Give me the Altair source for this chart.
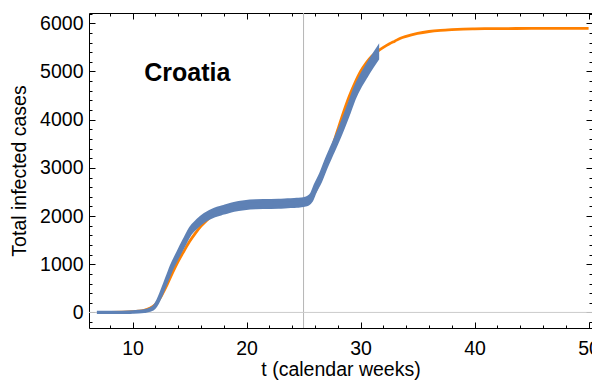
import altair as alt
import pandas as pd

FONT = "Liberation Sans"
BLUE = "#5E81B5"
ORANGE = "#FF8000"

# observed data (calendar weeks, total infected cases, error half-width)
weeks = [7.0, 8.0, 9.0, 9.5, 10.0, 10.5, 11.0, 11.5, 11.9, 12.2, 12.5, 12.8, 13.1, 13.4,
         14.0, 14.5, 15.1, 15.7, 16.3, 17.2, 18.0, 18.9, 19.8, 20.8, 21.8, 22.8, 23.6,
         24.4, 25.0, 25.4, 25.7, 26.0, 26.5, 27.0, 27.5, 28.0, 28.5, 29.0, 29.5, 30.0,
         30.5, 31.0, 31.5]
cases = [0, 0, 2, 4, 8, 15, 28, 55, 110, 220, 380, 560, 740, 920,
         1210, 1440, 1700, 1850, 1965, 2075, 2130, 2190, 2225, 2245, 2250, 2255, 2265,
         2275, 2290, 2320, 2390, 2560, 2800, 3100, 3370, 3640, 3930, 4240, 4560, 4800,
         5000, 5190, 5370]
errs = [3, 3, 4, 5, 6, 8, 10, 14, 18, 24, 30, 36, 41, 46,
        53, 57, 62, 65, 67, 69, 70, 71, 72, 72, 72, 72, 72,
        72, 72, 73, 74, 76, 80, 84, 87, 91, 94, 98, 101, 104,
        106, 108, 110]

# fitted curve
fit_weeks = [7, 8, 9, 10, 10.5, 11, 11.5, 12, 12.5, 13, 13.5, 14, 14.5, 15, 15.5, 16,
             16.5, 17, 17.5, 18, 19, 20, 21, 22, 23, 24, 24.5, 25, 25.5, 26, 26.5, 27,
             27.5, 28, 28.5, 29, 29.5, 30, 30.5, 31, 31.5, 32, 32.5, 33, 33.5, 34, 35,
             36, 37, 38, 39, 40, 42, 45, 50]
fit_cases = [1, 3, 7, 16, 26, 45, 85, 165, 330, 560, 820, 1060, 1270, 1470, 1640, 1790,
             1910, 2010, 2080, 2130, 2190, 2220, 2240, 2250, 2258, 2265, 2275, 2290, 2340,
             2500, 2770, 3080, 3420, 3790, 4150, 4480, 4760, 5000, 5180, 5320, 5420, 5500,
             5570, 5630, 5690, 5730, 5790, 5830, 5855, 5870, 5880, 5885, 5890, 5893, 5895]

x_ticks = list(range(8, 51, 2))
y_ticks = list(range(-200, 6201, 200))
marker_week = [25]
zero_line = [0]
label_text = ["Croatia"]
label_x = [14.8]
label_y = [4960]

obs = pd.DataFrame({"week": weeks, "cases": cases, "err": errs})
obs["lo"] = obs["cases"] - obs["err"]
obs["hi"] = obs["cases"] + obs["err"]
fit = pd.DataFrame({"week": fit_weeks, "cases": fit_cases})

xscale = alt.Scale(domain=[6.18, 50.3], nice=False, zero=False)
yscale = alt.Scale(domain=[-323, 6214], nice=False, zero=False)

x_tick_size = alt.ExprRef(expr="datum.value % 10 === 0 ? -6 : -3")
y_tick_size = alt.ExprRef(expr="datum.value % 1000 === 0 ? -6 : -3")

common = dict(grid=False, domain=False, tickColor="black", tickWidth=1,
              labelFont=FONT, labelFontSize=19.5, labelColor="black",
              titleFont=FONT, titleFontSize=19.5, titleFontWeight="normal",
              titleColor="black")

bottom_axis = alt.Axis(orient="bottom", values=x_ticks, tickSize=x_tick_size,
                       labelExpr="datum.value % 10 === 0 ? datum.label : ''",
                       labelPadding=17, titlePadding=3, **common)
left_axis = alt.Axis(orient="left", values=y_ticks, tickSize=y_tick_size,
                     labelExpr="datum.value % 1000 === 0 ? datum.label : ''",
                     format="d", labelPadding=12, titlePadding=10, **common)
top_axis = alt.Axis(orient="top", values=x_ticks, tickSize=x_tick_size,
                    labels=False, grid=False, domain=False, tickColor="black", tickWidth=1)
right_axis = alt.Axis(orient="right", values=y_ticks, tickSize=y_tick_size,
                      labels=False, grid=False, domain=False, tickColor="black", tickWidth=1)

vline = alt.Chart(pd.DataFrame({"week": marker_week})).mark_rule(
    color="#b5b5b5", strokeWidth=1).encode(
    x=alt.X("week:Q", scale=xscale, axis=None))

hline = alt.Chart(pd.DataFrame({"cases": zero_line})).mark_rule(
    color="#cccccc", strokeWidth=1).encode(
    y=alt.Y("cases:Q", scale=yscale, axis=None))

curve = alt.Chart(fit).mark_line(color=ORANGE, strokeWidth=2.8, interpolate="monotone").encode(
    x=alt.X("week:Q", scale=xscale, axis=top_axis, title=None),
    y=alt.Y("cases:Q", scale=yscale, axis=right_axis, title=None))

band = alt.Chart(obs).mark_area(color=BLUE, stroke=BLUE, strokeWidth=3, opacity=1,
                                interpolate="monotone").encode(
    x=alt.X("week:Q", scale=xscale, axis=bottom_axis, title="t (calendar weeks)"),
    y=alt.Y("lo:Q", scale=yscale, axis=left_axis, title="Total infected cases"),
    y2="hi:Q")

label = alt.Chart(pd.DataFrame({"t": label_text, "x": label_x, "y": label_y})).mark_text(
    font=FONT, fontSize=25, fontWeight="bold", color="black", align="center",
    baseline="middle").encode(
    x=alt.X("x:Q", scale=xscale, axis=None),
    y=alt.Y("y:Q", scale=yscale, axis=None),
    text="t:N")

chart = alt.layer(vline, hline, curve, band, label).resolve_axis(
    x="independent", y="independent").properties(
    width=503, height=315,
    autosize=alt.AutoSizeParams(type="none"),
    padding={"left": 81, "top": 5, "right": 0, "bottom": 52},
).configure_view(stroke="black", strokeWidth=1)

chart.save("out.html", embed_options={"renderer": "svg", "actions": False})
